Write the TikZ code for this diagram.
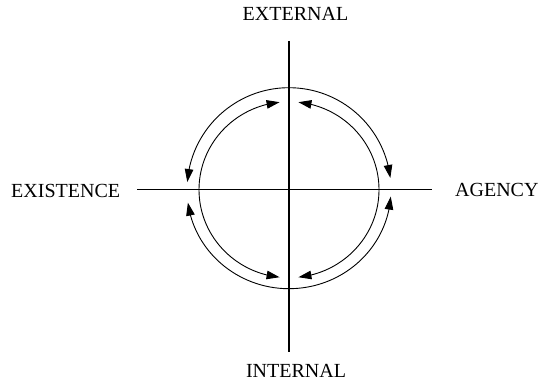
\documentclass[tikz,border=0pt]{standalone}
\usepackage{fontspec}
\setmainfont{Liberation Serif}
\usetikzlibrary{arrows.meta,bending}
\begin{document}
\begin{tikzpicture}[x=1pt,y=1pt,
  axis/.style={line width=1.5pt},
  cyc/.style={line width=0.9pt,{Triangle[length=13pt,width=8.5pt]}-{Triangle[length=13pt,width=8.5pt]}},
  half/.style={line width=0.9pt,-{Triangle[length=13pt,width=8.5pt]}},
  lbl/.style={font=\fontsize{20}{24}\selectfont,inner sep=0pt}]
\useasboundingbox (0,0) rectangle (545,388);
\coordinate (c) at (289,198.3);
\coordinate (top) at (289,347);
\coordinate (bot) at (289,36);
\coordinate (lft) at (137,198.3);
\coordinate (rgt) at (432,198.3);
\draw[axis] (top) -- (bot);
\draw[axis] (lft) -- (rgt);
% outer arcs
\draw[cyc] ([shift={(175.7:102)}]c) arc[start angle=175.7, end angle=6.6, radius=102];
\draw[cyc] ([shift={(187.5:102 and 99)}]c) arc[start angle=187.5, end angle=356, x radius=102, y radius=99];
% inner arcs
\draw[half] ([shift={(180:90 and 88)}]c) arc[start angle=180, end angle=96, x radius=90, y radius=88];
\draw[half] ([shift={(0:90 and 88)}]c) arc[start angle=0, end angle=84, x radius=90, y radius=88];
\draw[half] ([shift={(180:90 and 88)}]c) arc[start angle=180, end angle=264, x radius=90, y radius=88];
\draw[half] ([shift={(0:90 and 88)}]c) arc[start angle=360, end angle=276, x radius=90, y radius=88];
% labels
\node[lbl,anchor=base] (ext) at (295.5,367) {EXTERNAL};
\node[lbl,anchor=base] (int) at (296,11) {INTERNAL};
\node[lbl,anchor=base west] (exi) at (11,190.5) {EXISTENCE};
\node[lbl,anchor=base west] (age) at (455,191) {AGENCY};
\end{tikzpicture}
\end{document}
